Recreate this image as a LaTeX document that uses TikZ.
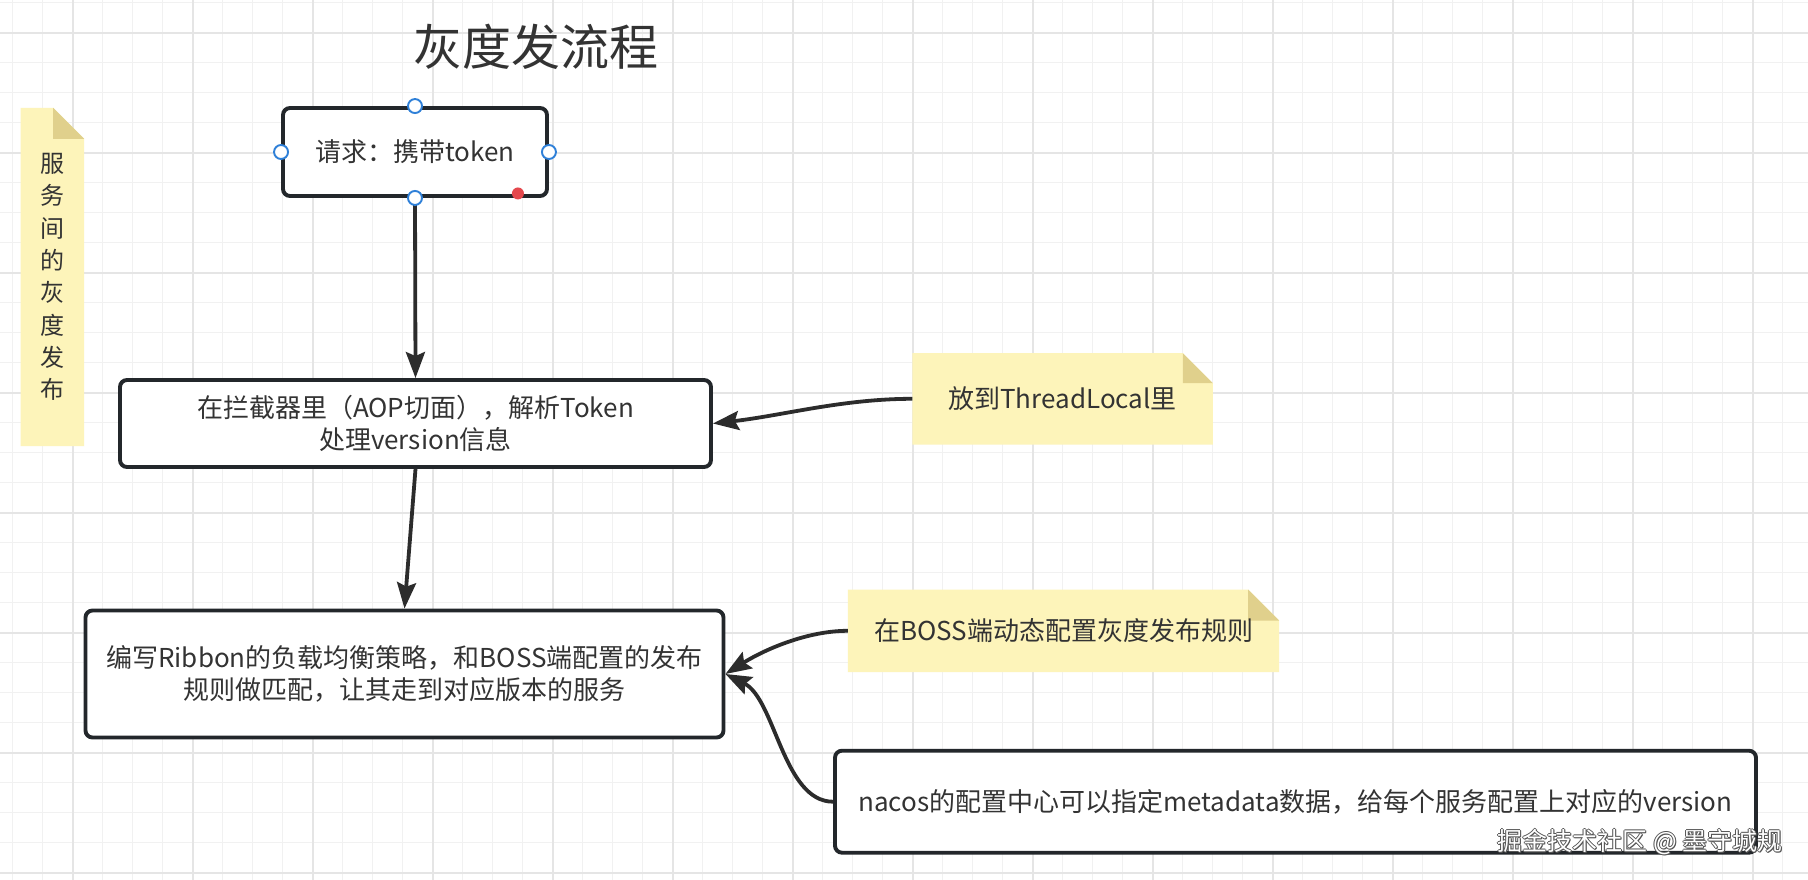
\documentclass[tikz,border=0pt]{standalone}
\usepackage{fontspec}
\setmainfont{Noto Sans CJK SC}
\usetikzlibrary{arrows.meta,calc}
\pgfdeclarelayer{bg}
\pgfdeclarelayer{notes}
\pgfsetlayers{bg,notes,main}
\definecolor{txt}{HTML}{333333}
\definecolor{edge}{HTML}{23272B}
\definecolor{arrowc}{HTML}{2C2C2C}
\definecolor{notey}{HTML}{FDF4BA}
\definecolor{notefold}{HTML}{E0D08C}
\definecolor{gridminor}{HTML}{F1F1F1}
\definecolor{gridmajor}{HTML}{E5E5E5}
\definecolor{handle}{HTML}{2F80D8}
\definecolor{reddot}{HTML}{E5484D}
\definecolor{wmshadow}{HTML}{555555}
\newcommand\notebg[2]{%
  \fill[notey] (#1.south west) -- (#1.north west) -- ([xshift=-#2pt]#1.north east)
    -- ([yshift=-#2pt]#1.north east) -- (#1.south east) -- cycle;
  \fill[notefold] ([xshift=-#2pt]#1.north east) -- ([xshift=-#2pt,yshift=-#2pt]#1.north east)
    -- ([yshift=-#2pt]#1.north east) -- cycle;
}
\newcommand\wmark[1]{%
  \leavevmode
  \rlap{\kern1.3pt\raisebox{-1.3pt}{\textcolor{wmshadow}{#1}}}%
  \rlap{\kern-0.9pt\textcolor{wmshadow}{#1}}%
  \rlap{\kern0.9pt\textcolor{wmshadow}{#1}}%
  \rlap{\raisebox{0.9pt}{\textcolor{wmshadow}{#1}}}%
  \rlap{\raisebox{-0.9pt}{\textcolor{wmshadow}{#1}}}%
  \textcolor{white}{#1}}
\tikzset{
  flowbox/.style={draw=edge, line width=3.9pt, rounded corners=7pt, fill=white, text=txt,
    font=\fontsize{26}{32}\selectfont, align=center, inner sep=0pt},
  notebox/.style={text=txt, font=\fontsize{26}{32}\selectfont, align=center, inner sep=0pt},
  conn/.style={draw=arrowc, line width=3.8pt, -{Stealth[length=26pt,width=19pt,inset=4pt]}},
  hdl/.style={circle, draw=handle, fill=white, line width=1.9pt, minimum size=14pt, inner sep=0pt},
  rdot/.style={circle, fill=reddot, minimum size=12pt, inner sep=0pt},
}
\begin{document}
\begin{tikzpicture}[x=1pt,y=-1pt]
\useasboundingbox (0,0) rectangle (1808,880);
\begin{pgfonlayer}{bg}
  \fill[white] (0,0) rectangle (1808,880);
  \foreach \x in {12.7,42.7,...,1808} \draw[gridminor, line width=1.5pt] (\x,0) -- (\x,880);
  \foreach \y in {2.7,32.7,...,880} \draw[gridminor, line width=1.5pt] (0,\y) -- (1808,\y);
  \foreach \x in {72.7,192.7,...,1808} \draw[gridmajor, line width=1.8pt] (\x,0) -- (\x,880);
  \foreach \y in {32.7,152.7,...,880} \draw[gridmajor, line width=1.8pt] (0,\y) -- (1808,\y);
\end{pgfonlayer}

\node[font=\fontsize{49}{55}\selectfont, text=txt] (title) at (536,47) {灰度发流程};

\node[flowbox, minimum width=264pt, minimum height=88pt] (b1) at (415,152) {请求：携带token};
\node[flowbox, minimum width=591pt, minimum height=87pt] (b2) at (415.5,423.5)
  {在拦截器里（AOP切面），解析Token\\处理version信息};
\node[flowbox, minimum width=638pt, minimum height=127pt] (b3) at (404.5,674)
  {编写Ribbon的负载均衡策略，和BOSS端配置的发布\\规则做匹配，让其走到对应版本的服务};
\node[flowbox, minimum width=921pt, minimum height=102pt] (b4) at (1295.5,801.7)
  {nacos的配置中心可以指定metadata数据，给每个服务配置上对应的version};

\node[notebox, minimum width=300pt, minimum height=91pt] (n1) at (1062.6,398.8) {放到ThreadLocal里};
\node[notebox, minimum width=431pt, minimum height=82pt] (n2) at (1063.5,630.8) {在BOSS端动态配置灰度发布规则};
\node[notebox, minimum width=63pt, minimum height=338pt, font=\fontsize{24}{32.3}\selectfont] (nv) at (52.4,277)
  {服\\务\\间\\的\\灰\\度\\发\\布};

\begin{pgfonlayer}{notes}
  \notebg{n1}{30}
  \notebg{n2}{31}
  \notebg{nv}{31}
\end{pgfonlayer}

\draw[conn] (b1.south) -- (b2.north);
\draw[conn] (b2.south) -- (b3.north);
\draw[conn] (n1.west) .. controls +(-70,0) and +(70,-8) .. (b2.east);
\draw[conn] (n2.west) .. controls +(-40,0) and +(40,-25) .. (b3.east);
\draw[conn] (b4.west) .. controls +(-50,0) and +(50,25) .. (b3.east);

\node[hdl] (h1) at (b1.north) {};
\node[hdl] (h2) at (b1.west) {};
\node[hdl] (h3) at (b1.east) {};
\node[hdl] (h4) at (b1.south) {};
\node[rdot] (rd) at ([xshift=-31pt,yshift=4.5pt]b1.south east) {};

\node[font=\fontsize{25}{30}\selectfont, inner sep=0pt] (wm) at (1640,842) {\wmark{掘金技术社区 @ 墨守城规}};
\end{tikzpicture}
\end{document}
